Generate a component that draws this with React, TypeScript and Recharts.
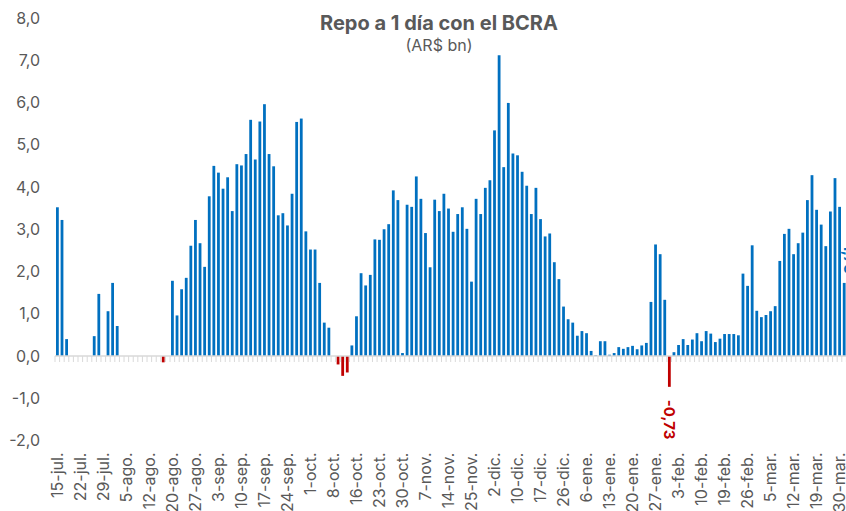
import { Bar, BarChart, Cell, LabelList, ReferenceLine, XAxis, YAxis } from "recharts";

// one label every 5 business days
const weekLabels = [
  "15-jul.", "22-jul.", "29-jul.", "5-ago.", "12-ago.", "20-ago.", "27-ago.",
  "3-sep.", "10-sep.", "17-sep.", "24-sep.", "1-oct.", "8-oct.", "16-oct.",
  "23-oct.", "30-oct.", "7-nov.", "14-nov.", "25-nov.", "2-dic.", "10-dic.",
  "17-dic.", "26-dic.", "6-ene.", "13-ene.", "20-ene.", "27-ene.", "3-feb.",
  "10-feb.", "19-feb.", "26-feb.", "5-mar.", "12-mar.", "19-mar.", "30-mar.",
];

// daily repo balance, AR$ bn
const repoValues = [
  3.52, 3.22, 0.4, 0, 0, 0, 0, 0, 0.47, 1.47,
  0, 1.06, 1.73, 0.71, 0, 0, 0, 0, 0, 0,
  0, 0, 0, -0.15, 0, 1.78, 0.96, 1.58, 1.85, 2.61,
  3.22, 2.67, 2.11, 3.78, 4.5, 4.34, 3.96, 4.23, 3.43, 4.54,
  4.51, 4.78, 5.59, 4.65, 5.55, 5.96, 4.78, 4.49, 3.33, 3.38,
  3.09, 3.84, 5.54, 5.62, 2.95, 2.52, 2.52, 1.73, 0.79, 0.67,
  0, -0.2, -0.47, -0.39, 0.25, 0.94, 1.96, 1.67, 1.92, 2.76,
  2.75, 3.0, 3.12, 3.92, 3.69, 0.07, 3.58, 3.53, 4.25, 3.72,
  2.91, 2.1, 3.7, 3.43, 3.84, 3.49, 2.94, 3.36, 3.52, 3.01,
  1.76, 3.72, 3.36, 3.98, 4.16, 5.34, 7.12, 4.47, 5.99, 4.79,
  4.75, 4.36, 4.03, 3.36, 3.98, 3.24, 2.83, 2.9, 2.22, 1.82,
  1.17, 0.87, 0.79, 0.48, 0.59, 0.54, 0.12, 0.02, 0.35, 0.35,
  0.03, 0.07, 0.21, 0.17, 0.21, 0.24, 0.16, 0.25, 0.31, 1.28,
  2.64, 2.41, 1.33, -0.73, 0.09, 0.26, 0.4, 0.26, 0.39, 0.54,
  0.35, 0.59, 0.53, 0.33, 0.41, 0.52, 0.52, 0.52, 0.49, 1.95,
  1.66, 2.62, 1.07, 0.92, 0.97, 1.06, 1.18, 2.25, 2.89, 3.01,
  2.41, 2.67, 2.92, 3.69, 4.28, 3.46, 3.11, 2.6, 3.42, 4.21,
  3.53, 1.73, 1.73,
];

// data labels shown on a few days
const labelledDays = [133, 172];
const labelTexts = ["-0,73", "1,73"];

const yTicks = [-2, -1, 0, 1, 2, 3, 4, 5, 6, 7, 8];

const BLUE = "#0070C0";
const RED = "#C00000";
const GREY = "#595959";
const FONT = "Inter, 'Noto Sans', sans-serif";

const rows = repoValues.map((value, i) => {
  const k = labelledDays.indexOf(i);
  return {
    label: i % 5 === 0 && weekLabels[i / 5] ? weekLabels[i / 5] : "",
    value,
    note: k >= 0 ? labelTexts[k] : "",
  };
});

function DateTick({ x, y, payload }: any) {
  if (!payload?.value) return <g />;
  const ty = y + 12;
  return (
    <text
      x={x}
      y={ty}
      transform={`rotate(-90 ${x} ${ty})`}
      textAnchor="end"
      dy="0.35em"
      fill={GREY}
      fontSize={16}
      fontFamily={FONT}
    >
      {payload.value}
    </text>
  );
}

function ValueLabel(props: any) {
  const { x, y, width, height, value } = props;
  if (!value) return null;
  const row = rows.find((r) => r.note === value);
  const neg = row ? row.value < 0 : false;
  const cx = x + width / 2;
  const top = Math.min(y, y + height);
  const bottom = Math.max(y, y + height);
  const ty = neg ? bottom + 13 : top - 9;
  return (
    <text
      x={cx}
      y={ty}
      transform={`rotate(90 ${cx} ${ty})`}
      textAnchor={neg ? "start" : "end"}
      dy="0.35em"
      fill={neg ? RED : BLUE}
      fontSize={15}
      fontWeight={700}
      fontFamily={FONT}
    >
      {value}
    </text>
  );
}

// zero line with a small tick between every day
function ZeroAxis({ x1, y1, x2 }: any) {
  const n = rows.length;
  const step = (x2 - x1) / n;
  const ticks = [];
  for (let k = 0; k <= n; k++) {
    const tx = x1 + k * step;
    ticks.push(<line key={k} x1={tx} x2={tx} y1={y1} y2={y1 + 6} stroke="#d9d9d9" strokeWidth={1} />);
  }
  return (
    <g>
      <line x1={x1} x2={x2} y1={y1} y2={y1} stroke="#d9d9d9" strokeWidth={1.5} />
      {ticks}
    </g>
  );
}

export default function App() {
  return (
    <div
      style={{
        position: "absolute",
        left: 0,
        top: 0,
        width: 846,
        height: 511,
        overflow: "hidden",
        background: "#fff",
        fontFamily: FONT,
      }}
    >
      <BarChart
        width={851}
        height={511}
        data={rows}
        margin={{ top: 18, right: 0, bottom: 0, left: 0 }}
        barCategoryGap={0}
      >
        <XAxis
          dataKey="label"
          interval={0}
          height={70.5}
          axisLine={false}
          tickLine={false}
          tickSize={0}
          tickMargin={0}
          tick={<DateTick />}
        />
        <YAxis
          domain={[-2, 8]}
          ticks={yTicks}
          width={55}
          axisLine={false}
          tickLine={false}
          tickSize={0}
          tickMargin={15}
          tickFormatter={(v: number) => v.toFixed(1).replace(".", ",")}
          tick={{ fill: GREY, fontSize: 16, fontFamily: FONT }}
        />
        <ReferenceLine y={0} shape={<ZeroAxis />} />
        <Bar dataKey="value" barSize={2.8} isAnimationActive={false}>
          {rows.map((r, i) => (
            <Cell key={i} fill={r.value < 0 ? RED : BLUE} />
          ))}
          <LabelList dataKey="note" content={<ValueLabel />} />
        </Bar>
      </BarChart>
      <div
        style={{
          position: "absolute",
          left: 0,
          width: 878,
          top: 10,
          textAlign: "center",
          color: GREY,
          fontSize: 20,
          fontWeight: 700,
          lineHeight: "26px",
        }}
      >
        Repo a 1 día con el BCRA
      </div>
      <div
        style={{
          position: "absolute",
          left: 0,
          width: 878,
          top: 35,
          textAlign: "center",
          color: GREY,
          fontSize: 16,
          lineHeight: "20px",
        }}
      >
        (AR$ bn)
      </div>
    </div>
  );
}
